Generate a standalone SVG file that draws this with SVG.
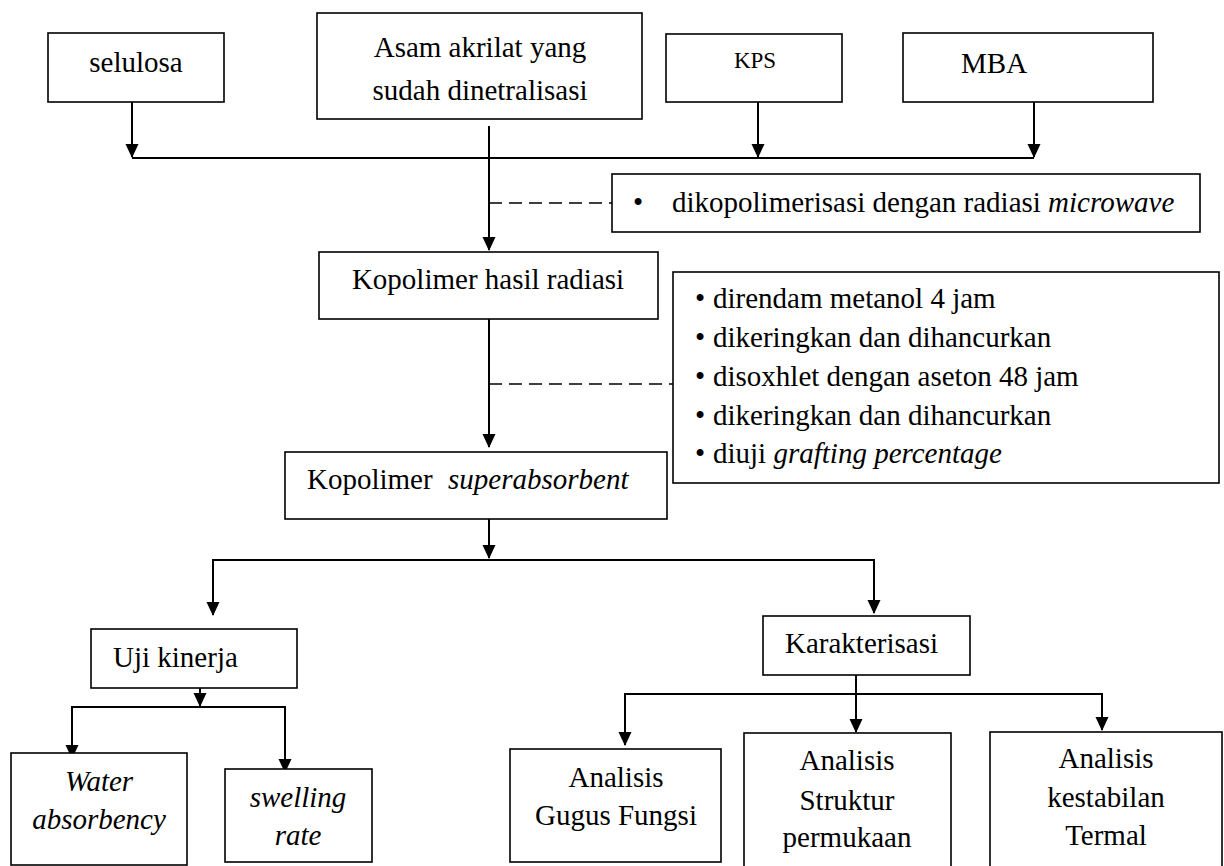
<svg xmlns="http://www.w3.org/2000/svg" width="1224" height="866" viewBox="0 0 1224 866">
<style>
.box{fill:#fff;stroke:#000;stroke-width:1.6}
.t{font-family:"Liberation Serif","Times New Roman",serif;font-size:29px;fill:#000}
.m{text-anchor:middle}
.i{font-style:italic}
.c{fill:none;stroke:#000;stroke-width:2}
.d{fill:none;stroke:#000;stroke-width:1.6;stroke-dasharray:13 7}
</style>
<defs>
<marker id="ah" markerUnits="userSpaceOnUse" markerWidth="14" markerHeight="15" refX="14" refY="7" orient="auto" viewBox="0 0 15 14">
<path d="M0,0 L15,7 L0,14 Z" fill="#000"/>
</marker>
</defs>
<rect width="1224" height="866" fill="#fff"/>

<g id="connectors">
<line class="c" x1="132" y1="102" x2="132" y2="157" marker-end="url(#ah)"/>
<line class="c" x1="758" y1="102" x2="758" y2="157" marker-end="url(#ah)"/>
<line class="c" x1="1034" y1="102" x2="1034" y2="157" marker-end="url(#ah)"/>
<line class="c" x1="132" y1="158" x2="1034" y2="158"/>
<line class="c" x1="489" y1="126" x2="489" y2="250" marker-end="url(#ah)"/>
<line class="d" x1="489" y1="203" x2="612" y2="203"/>
<line class="c" x1="489" y1="319" x2="489" y2="447" marker-end="url(#ah)"/>
<line class="d" x1="489" y1="384" x2="673" y2="384"/>
<line class="c" x1="489" y1="519" x2="489" y2="558" marker-end="url(#ah)"/>
<line class="c" x1="212" y1="560" x2="875" y2="560"/>
<line class="c" x1="213" y1="560" x2="213" y2="615" marker-end="url(#ah)"/>
<line class="c" x1="874" y1="560" x2="874" y2="613" marker-end="url(#ah)"/>
<line class="c" x1="200" y1="683" x2="200" y2="706" marker-end="url(#ah)"/>
<line class="c" x1="71" y1="707" x2="286" y2="707"/>
<line class="c" x1="72" y1="707" x2="72" y2="758" marker-end="url(#ah)"/>
<line class="c" x1="285" y1="707" x2="285" y2="772" marker-end="url(#ah)"/>
<line class="c" x1="856" y1="675" x2="856" y2="694"/>
<line class="c" x1="624" y1="694" x2="1103" y2="694"/>
<line class="c" x1="625" y1="694" x2="625" y2="745" marker-end="url(#ah)"/>
<line class="c" x1="856" y1="694" x2="856" y2="732" marker-end="url(#ah)"/>
<line class="c" x1="1102" y1="694" x2="1102" y2="730" marker-end="url(#ah)"/>
</g>

<g id="selulosa">
<rect class="box" x="48" y="33" width="176" height="69"/>
<text class="t m" x="136" y="72">selulosa</text>
</g>
<g id="asam-akrilat">
<rect class="box" x="317" y="13" width="325" height="106"/>
<text class="t m" x="480" y="57">Asam akrilat yang</text>
<text class="t m" x="480" y="100">sudah dinetralisasi</text>
</g>
<g id="kps">
<rect class="box" x="666" y="34" width="176" height="68"/>
<text class="t m" x="755" y="68" style="font-size:23px">KPS</text>
</g>
<g id="mba">
<rect class="box" x="903" y="33" width="250" height="69"/>
<text class="t" x="961" y="73">MBA</text>
</g>
<g id="microwave-step">
<rect class="box" x="612" y="174" width="588" height="58"/>
<text class="t m" x="638" y="212">•</text>
<text class="t" x="672" y="212">dikopolimerisasi dengan radiasi <tspan class="i">microwave</tspan></text>
</g>
<g id="kopolimer-hasil-radiasi">
<rect class="box" x="319" y="252" width="339" height="67"/>
<text class="t m" x="488" y="289">Kopolimer hasil radiasi</text>
</g>
<g id="purification-steps">
<rect class="box" x="673" y="272" width="546" height="211"/>
<text class="t m" x="700" y="308">•</text>
<text class="t" x="713" y="308">direndam metanol 4 jam</text>
<text class="t m" x="700" y="347">•</text>
<text class="t" x="713" y="347">dikeringkan dan dihancurkan</text>
<text class="t m" x="700" y="386">•</text>
<text class="t" x="713" y="386">disoxhlet dengan aseton 48 jam</text>
<text class="t m" x="700" y="425">•</text>
<text class="t" x="713" y="425">dikeringkan dan dihancurkan</text>
<text class="t m" x="700" y="463">•</text>
<text class="t" x="713" y="463">diuji <tspan class="i">grafting percentage</tspan></text>
</g>
<g id="kopolimer-superabsorbent">
<rect class="box" x="285" y="452" width="382" height="67"/>
<text class="t" x="307" y="489">Kopolimer</text>
<text class="t i" x="448" y="489">superabsorbent</text>
</g>
<g id="uji-kinerja">
<rect class="box" x="91" y="629" width="206" height="59"/>
<text class="t" x="113" y="667">Uji kinerja</text>
</g>
<g id="water-absorbency">
<rect class="box" x="11" y="753" width="176" height="112"/>
<text class="t m i" x="99" y="791">Water</text>
<text class="t m i" x="99" y="829">absorbency</text>
</g>
<g id="swelling-rate">
<rect class="box" x="225" y="769" width="147" height="93"/>
<text class="t m i" x="298" y="807">swelling</text>
<text class="t m i" x="298" y="845">rate</text>
</g>
<g id="karakterisasi">
<rect class="box" x="763" y="616" width="207" height="59"/>
<text class="t" x="785" y="653">Karakterisasi</text>
</g>
<g id="gugus-fungsi">
<rect class="box" x="510" y="749" width="211" height="113"/>
<text class="t m" x="616" y="787">Analisis</text>
<text class="t m" x="616" y="825">Gugus Fungsi</text>
</g>
<g id="struktur-permukaan">
<rect class="box" x="744" y="733" width="207" height="140"/>
<text class="t m" x="847" y="770">Analisis</text>
<text class="t m" x="847" y="810">Struktur</text>
<text class="t m" x="847" y="847">permukaan</text>
</g>
<g id="kestabilan-termal">
<rect class="box" x="990" y="732" width="232" height="140"/>
<text class="t m" x="1106" y="768">Analisis</text>
<text class="t m" x="1106" y="807">kestabilan</text>
<text class="t m" x="1106" y="845">Termal</text>
</g>
</svg>
